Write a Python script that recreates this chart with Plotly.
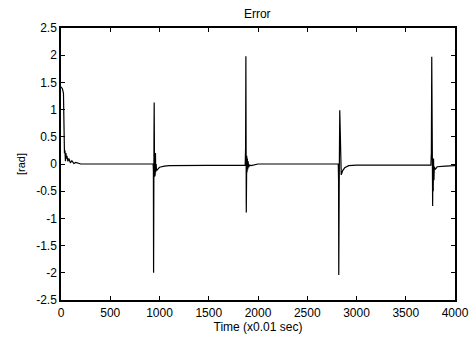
import plotly.graph_objects as go

# Error signal key points (time in x0.01 sec, error in rad)
time_pts = [
    0, 5, 15, 25, 30, 35, 40, 45, 50, 55, 60, 70, 80, 95, 110, 130, 150, 200,
    935, 938, 940, 942, 944, 946, 948, 950, 953, 956, 959, 962, 966, 970, 980, 1000, 1050, 1100,
    1870, 1874, 1877, 1879, 1881, 1883, 1886, 1889, 1892, 1896, 1900, 1905, 1915, 1930, 2000,
    2815, 2818, 2820, 2824, 2830, 2836, 2840, 2845, 2860, 2880, 2920, 3000,
    3755, 3760, 3764, 3767, 3770, 3773, 3776, 3779, 3782, 3786, 3790, 3800, 3820, 3900, 4000,
]
error_pts = [
    1.42, 1.40, 1.38, 1.30, 0.80, 0.20, 0.25, 0.05, 0.20, 0.10, 0.15, 0.05, 0.10, 0.02, 0.06, 0.01, 0.03, 0.0,
    0.0, -0.10, -2.00, -1.00, 0.50, 1.13, 0.80, -0.23, 0.40, -0.20, 0.20, -0.15, 0.0, -0.12, -0.10, -0.06, -0.04, -0.03,
    -0.02, 0.30, 1.98, 0.50, -0.89, -0.30, 0.15, -0.15, 0.10, -0.10, 0.05, -0.06, -0.02, -0.03, 0.0,
    0.0, -0.30, -2.04, -0.50, 0.99, 0.50, -0.15, -0.20, -0.12, -0.07, -0.03, -0.02,
    -0.02, 0.20, 1.97, 0.60, -0.30, -0.77, 0.0, -0.50, 0.10, -0.30, -0.05, -0.10, -0.05, -0.04, -0.03,
]

x_ticks = [0, 500, 1000, 1500, 2000, 2500, 3000, 3500, 4000]
y_ticks = [2.5, 2, 1.5, 1, 0.5, 0, -0.5, -1, -1.5, -2, -2.5]
y_tick_labels = ["2.5", "2", "1.5", "1", "0.5", "0", "-0.5", "-1", "-1.5", "-2", "-2.5"]

fig = go.Figure()
fig.add_trace(go.Scatter(
    x=time_pts, y=error_pts, mode="lines",
    line=dict(color="black", width=1.2),
    showlegend=False,
))

font_family = "Liberation Sans, Arial, sans-serif"
axis_common = dict(
    showgrid=False, zeroline=False, automargin=False,
    showline=True, linecolor="black", linewidth=1.5,
    mirror="ticks", ticks="inside", ticklen=4, tickcolor="black", tickwidth=1,
    tickfont=dict(family=font_family, size=12, color="black"),
)

fig.update_layout(
    width=472, height=339,
    margin=dict(l=61, r=17, t=28, b=39),
    paper_bgcolor="white", plot_bgcolor="white",
    title=dict(text="Error", x=0.545, xanchor="center", y=0.96, yanchor="middle",
               font=dict(family=font_family, size=12, color="black")),
    xaxis=dict(range=[0, 4000], tickvals=x_ticks, ticktext=[str(v) for v in x_ticks],
               ticklabelstandoff=1,
               title=dict(text="Time (x0.01 sec)", standoff=3,
                          font=dict(family=font_family, size=12, color="black")),
               **axis_common),
    yaxis=dict(range=[-2.5, 2.5], tickvals=y_ticks, ticktext=y_tick_labels,
               title=dict(text="[rad]", standoff=8,
                          font=dict(family=font_family, size=11, color="black")),
               **axis_common),
)

fig.write_html("out.html")
